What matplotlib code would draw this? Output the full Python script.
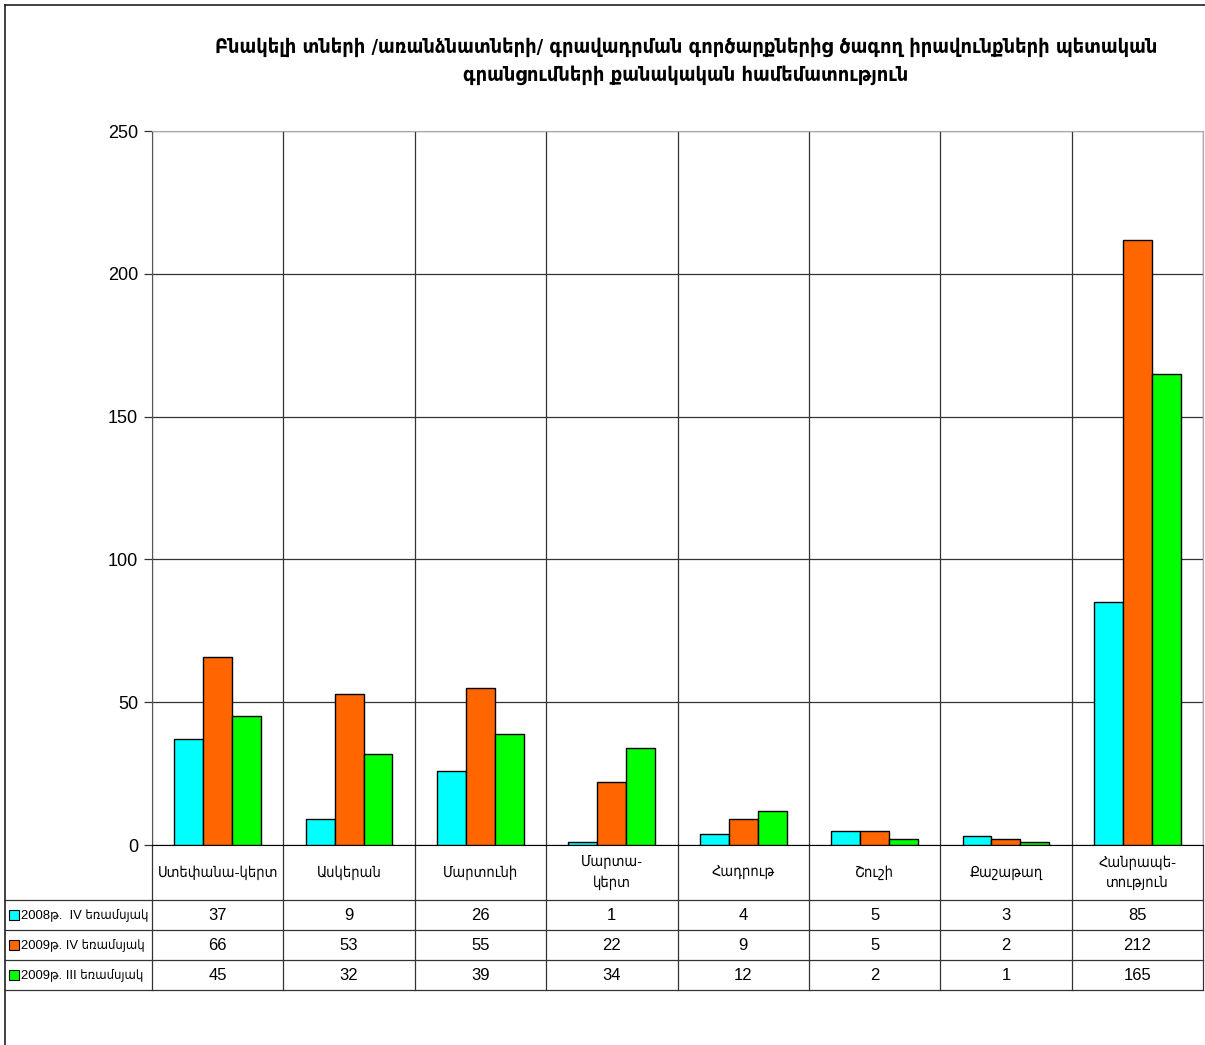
import numpy as np
import matplotlib
matplotlib.use('Agg')
import matplotlib.pyplot as plt
from matplotlib.lines import Line2D
from matplotlib.patches import Rectangle

# data
regions = ['Ստեփանա-կերտ', 'Ասկերան', 'Մարտունի', 'Մարտա-\nկերտ', 'Հադրութ',
           'Շուշի', 'Քաշաթաղ', 'Հանրապե-\nտություն']
series_names = ['2008թ.  IV եռամսյակ', '2009թ. IV եռամսյակ', '2009թ. III եռամսյակ']
q4_2008 = [37, 9, 26, 1, 4, 5, 3, 85]
q4_2009 = [66, 53, 55, 22, 9, 5, 2, 212]
q3_2009 = [45, 32, 39, 34, 12, 2, 1, 165]
series = [q4_2008, q4_2009, q3_2009]
colors = ['#00FFFF', '#FF6600', '#00FF00']
yticks = [0, 50, 100, 150, 200, 250]

title = ('Բնակելի տների /առանձնատների/ գրավադրման գործարքներից ծագող իրավունքների պետական\n'
         'գրանցումների քանակական համեմատություն')

FONT = ['Liberation Sans', 'DejaVu Sans']
W, H = 1205, 1045

fig = plt.figure(figsize=(W / 100, H / 100), dpi=100)
ax = fig.add_axes([152 / W, 1 - 845 / H, 1051 / W, 714 / H])

x = np.arange(len(regions))
bw = 0.22
for i, (vals, c) in enumerate(zip(series, colors)):
    ax.bar(x + (i - 1) * bw, vals, bw, color=c, edgecolor='black', linewidth=1, zorder=3)

ax.set_xlim(-0.5, len(regions) - 0.5)
ax.set_ylim(0, 250)
ax.set_yticks(yticks)
ax.set_yticklabels([str(t) for t in yticks], family=FONT, fontsize=13)
ax.set_xticks(np.arange(-0.5, len(regions), 1))
ax.grid(True, color='#333333', linewidth=0.9, zorder=0)
ax.tick_params(axis='x', length=0, labelbottom=False)
ax.tick_params(axis='y', length=6, width=0.9, color='#333333', pad=4)
ax.spines['left'].set_color('#555555')
ax.spines['bottom'].set_color('black')
ax.spines['top'].set_color('#aaaaaa')
ax.spines['right'].set_color('#aaaaaa')

# data table under the plot (axes coordinates)
ah = 714
rows_px = [0, 55, 85, 115, 145]
rows = [-p / ah for p in rows_px]
x_left = (5 - 152) / 1051
n = len(regions)

for yy in rows[1:]:
    ax.add_line(Line2D([x_left, 1], [yy, yy], transform=ax.transAxes, color='#333333',
                       linewidth=0.9, clip_on=False))
for i in range(n + 1):
    ax.add_line(Line2D([i / n, i / n], [0, rows[-1]], transform=ax.transAxes, color='#333333',
                       linewidth=0.9, clip_on=False))

for i, name in enumerate(regions):
    ax.text((i + 0.5) / n, (rows[0] + rows[1]) / 2, name, transform=ax.transAxes,
            ha='center', va='center', fontsize=10.5, family=FONT, fontstretch='condensed',
            linespacing=1.5)

for r, (name, vals, c) in enumerate(zip(series_names, series, colors)):
    yc = (rows[r + 1] + rows[r + 2]) / 2
    ax.add_patch(Rectangle(((9 - 152) / 1051, yc - 5 / ah), 10 / 1051, 10 / ah,
                           transform=ax.transAxes, facecolor=c, edgecolor='black',
                           linewidth=0.8, clip_on=False))
    ax.text((21 - 152) / 1051, yc, name, transform=ax.transAxes, ha='left', va='center',
            fontsize=9.4, family=FONT, fontstretch='condensed')
    for i, v in enumerate(vals):
        ax.text((i + 0.5) / n, yc, str(v), transform=ax.transAxes, ha='center',
                va='center', fontsize=12, family=FONT)

# outer frame (top and left)
fig.add_artist(Line2D([5 / W, 1], [1 - 5 / H, 1 - 5 / H], color='#222222', linewidth=1.2))
fig.add_artist(Line2D([5 / W, 5 / W], [0, 1 - 5 / H], color='#222222', linewidth=1.2))

fig.text(686 / W, 1 - 61 / H, title, ha='center', va='center', fontsize=14.3,
         fontweight='bold', family=['DejaVu Sans'], fontstretch='condensed', linespacing=1.55)

fig.savefig('out.png', dpi=100, facecolor='white')
